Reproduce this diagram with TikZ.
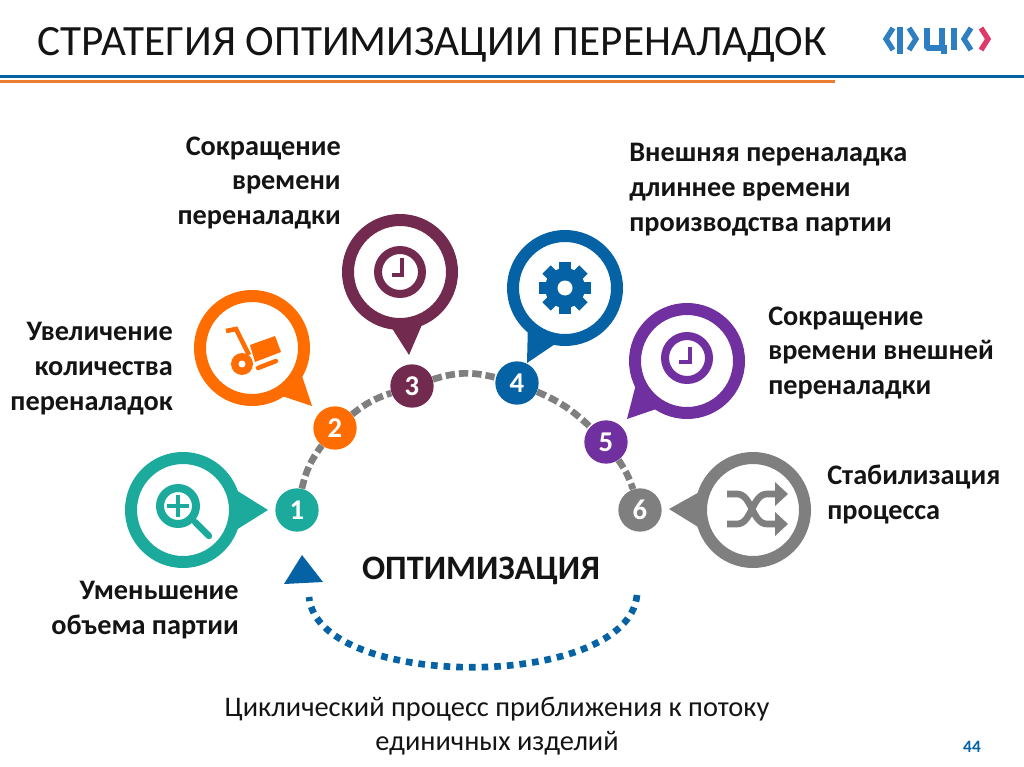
\documentclass[tikz,border=0pt]{standalone}
\usepackage{fontspec}
\setmainfont{Carlito}
\definecolor{clrteal}{HTML}{1BAA9C}
\definecolor{clrorange}{HTML}{FF6D00}
\definecolor{clrplum}{HTML}{722B4F}
\definecolor{clrblue}{HTML}{0563A5}
\definecolor{clrpurple}{HTML}{7030A0}
\definecolor{clrgray}{HTML}{7F7F7F}
\definecolor{clrlogo}{HTML}{2E7FC1}
\definecolor{clrred}{HTML}{DD3A6A}
\definecolor{clrline}{HTML}{ED7D31}
\tikzset{
  bubble/.style={circle,draw=#1,fill=white,line width=9pt,minimum size=78pt,inner sep=0pt},
  numdot/.style={circle,fill=#1,minimum size=32.5pt,inner sep=0pt,text=white,font=\fontsize{21.5}{22}\selectfont\bfseries},
  lbl/.style={inner sep=0pt,font=\fontsize{21.2}{26.2}\selectfont\bfseries,text=black!92},
  arcdash/.style={draw=clrgray,line width=5pt,dash pattern=on 7pt off 3pt},
  logoline/.style={clrlogo,line width=4pt}
}
\begin{document}
\begin{tikzpicture}[x=0.75pt,y=-0.75pt]
  \useasboundingbox (0,0) rectangle (1024,767);
  % header
  \node[inner sep=0pt,anchor=west,font=\fontsize{32.4}{34}\selectfont,text=black!92] (title) at (37,45) {СТРАТЕГИЯ ОПТИМИЗАЦИИ ПЕРЕНАЛАДОК};
  \fill[clrblue] (0,75.5) rectangle (1024,78.5);
  \fill[clrline] (0,80.5) rectangle (835,83.5);
  % logo
  \draw[logoline] (893,28) -- (886,39) -- (893,50);
  \draw[logoline] (900,27) -- (900,54);
  \draw[logoline] (909,28) -- (916,39) -- (909,50);
  \draw[logoline,miter limit=1] (927,28) -- (927,48) -- (947,48);
  \draw[logoline] (942,28) -- (942,48);
  \fill[clrlogo] (941,48) rectangle (947,54);
  \draw[logoline] (954,28) -- (954,50);
  \draw[logoline] (971,28) -- (964,39) -- (971,50);
  \draw[clrred,line width=4pt] (981,28) -- (988,39) -- (981,50);
  % tails
  \fill[clrteal] (268,510) -- (236,490) -- (236,530) -- cycle;
  \fill[clrorange] (312,406) -- (300,370) -- (279,395) -- cycle;
  \fill[clrplum] (409,355) -- (388,322) -- (424,320) -- cycle;
  \fill[clrblue] (527,363) -- (528,322) -- (561,340) -- cycle;
  \fill[clrpurple] (627,419) -- (636,384) -- (662,407) -- cycle;
  \fill[clrgray] (669,509) -- (703,490) -- (703,530) -- cycle;
  % bubbles
  \node[bubble=clrteal] (bub1) at (183,510) {};
  \node[bubble=clrorange] (bub2) at (252,348) {};
  \node[bubble=clrplum] (bub3) at (400,272) {};
  \node[bubble=clrblue] (bub4) at (565,288) {};
  \node[bubble=clrpurple] (bub5) at (687,361) {};
  \node[bubble=clrgray] (bub6) at (753,510) {};
  % numbers on the arc
  \node[numdot=clrteal] (num1) at (297,510) {1};
  \node[numdot=clrorange] (num2) at (335,428) {2};
  \node[numdot=clrplum] (num3) at (412,386) {3};
  \node[numdot=clrblue] (num4) at (517,383) {4};
  \node[numdot=clrpurple] (num5) at (606,442) {5};
  \node[numdot=clrgray] (num6) at (640,510) {6};
  \draw[arcdash] (num1) to[bend left=12] (num2);
  \draw[arcdash] (num2) to[bend left=10] (num3);
  \draw[arcdash] (num3) to[bend left=16] (num4);
  \draw[arcdash] (num4) to[bend left=10] (num5);
  \draw[arcdash] (num5) to[bend left=8] (num6);
  % magnifier
  \draw[clrteal,line width=6pt] (178,506) circle (18);
  \draw[clrteal,line width=3.2pt] (167,506) -- (189,506);
  \draw[clrteal,line width=3.2pt] (178,495) -- (178,517);
  \draw[clrteal,line width=4.8pt,line cap=round] (195,522) -- (209,536);
  % hand truck
  \fill[clrorange] (242,364) circle (11);
  \fill[white] (242,364) circle (3.5);
  \draw[clrorange,line width=3.4pt] (226,331) -- (236,329) -- (249,355);
  \draw[clrorange,line width=3.4pt,line cap=round] (258,368) -- (276,361);
  \fill[clrorange] (250,345) -- (275,336) -- (281,352) -- (255,362) -- cycle;
  % clock 3
  \draw[clrplum,line width=6pt] (400,272) circle (22);
  \draw[clrplum,line width=3pt] (402,258) -- (402,275) -- (392,275);
  % gear
  \foreach \ang in {0,45,...,315}
    \fill[clrblue,rotate around={\ang:(565,288)}] (559,262) rectangle (571,272);
  \fill[clrblue] (565,288) circle (20);
  \fill[white] (565,288) circle (7.5);
  % clock 5
  \draw[clrpurple,line width=6pt] (687,358) circle (22);
  \draw[clrpurple,line width=3pt] (690,347) -- (690,362) -- (679,362);
  % shuffle
  \draw[clrgray,line width=5pt] (727,494) -- (737,494) .. controls (752,494) and (752,524) .. (767,524) -- (777,524);
  \draw[clrgray,line width=5pt] (727,524) -- (737,524) .. controls (752,524) and (752,494) .. (767,494) -- (777,494);
  \fill[clrgray] (775,482) -- (788,494) -- (775,506) -- cycle;
  \fill[clrgray] (775,512) -- (788,524) -- (775,536) -- cycle;
  % labels
  \node[lbl,align=right,anchor=east] (txt3) at (341,183) {Сокращение\\времени\\переналадки};
  \node[lbl,align=left,anchor=west] (txt4) at (629,190) {Внешняя переналадка\\длиннее времени\\производства партии};
  \node[lbl,align=right,anchor=east] (txt2) at (173,369) {Увеличение\\количества\\переналадок};
  \node[lbl,align=left,anchor=west] (txt5) at (768,353) {Сокращение\\времени внешней\\переналадки};
  \node[lbl,align=left,anchor=west] (txt6) at (827,495) {Стабилизация\\процесса};
  \node[lbl,align=right,anchor=east] (txt1) at (239,610) {Уменьшение\\объема партии};
  \node[inner sep=0pt,font=\fontsize{25.7}{28}\selectfont\bfseries,text=black!92] (opt) at (481,571) {ОПТИМИЗАЦИЯ};
  % cycle arrow
  \coordinate (cycR) at (637,595);
  \coordinate (cycL) at (309,597);
  \draw[clrblue,line width=5pt,dash pattern=on 5pt off 4.5pt] (cycR) .. controls (628,691) and (318,691) .. (cycL);
  \fill[clrblue] (302,555) -- (323,582) -- (284,584) -- cycle;
  \node[inner sep=0pt,align=center,font=\fontsize{21.3}{25}\selectfont,text=black!92] (cap) at (497,726) {Циклический процесс приближения к потоку\\единичных изделий};
  \node[inner sep=0pt,font=\fontsize{13}{14}\selectfont\bfseries,text=clrblue] (page) at (972,747) {44};
\end{tikzpicture}
\end{document}
